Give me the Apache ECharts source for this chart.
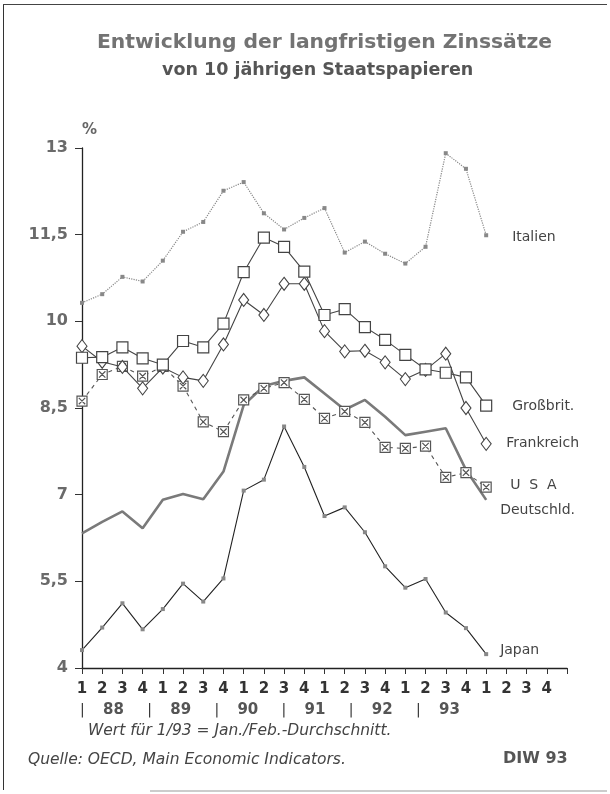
<!DOCTYPE html>
<html><head><meta charset="utf-8">
<script src="https://cdn.jsdelivr.net/npm/echarts@6/dist/echarts.min.js"></script>
<style>html,body{margin:0;padding:0;background:#fff}#c{width:610px;height:794px}</style>
</head><body><div id="c"></div>
<script>
// ---- data ----
const years = ['88', '89', '90', '91', '92', '93'];
const quarters = ['1', '2', '3', '4'];
const italien     = [10.32, 10.47, 10.77, 10.69, 11.05, 11.55, 11.72, 12.26, 12.41, 11.87, 11.59, 11.79, 11.96, 11.19, 11.38, 11.17, 11.00, 11.29, 12.91, 12.64, 11.49];
const grossbrit   = [9.37, 9.38, 9.55, 9.36, 9.25, 9.66, 9.55, 9.96, 10.85, 11.45, 11.29, 10.86, 10.11, 10.21, 9.90, 9.68, 9.42, 9.17, 9.11, 9.03, 8.54];
const frankreich  = [9.57, 9.30, 9.21, 8.84, 9.20, 9.03, 8.97, 9.60, 10.37, 10.11, 10.65, 10.65, 9.83, 9.48, 9.49, 9.29, 9.00, 9.16, 9.44, 8.50, 7.88];
const usa         = [8.62, 9.08, 9.22, 9.05, 9.22, 8.88, 8.26, 8.09, 8.64, 8.84, 8.94, 8.65, 8.32, 8.44, 8.25, 7.82, 7.80, 7.84, 7.30, 7.38, 7.13];
const deutschland = [6.33, 6.53, 6.71, 6.42, 6.91, 7.01, 6.92, 7.40, 8.55, 8.88, 8.97, 9.03, 8.75, 8.47, 8.64, 8.35, 8.03, 8.09, 8.15, 7.43, 6.91];
const japan       = [4.31, 4.70, 5.12, 4.67, 5.02, 5.46, 5.15, 5.55, 7.07, 7.26, 8.18, 7.48, 6.63, 6.78, 6.35, 5.76, 5.39, 5.54, 4.96, 4.69, 4.24];
const yMin = 4, yMax = 13, yStep = 1.5;

// ---- chart ----
const categories = years.flatMap(() => quarters).concat(['']);
const FONT = 'DejaVu Sans';
const chart = echarts.init(document.getElementById('c'), null, {renderer: 'canvas'});

const yearGraphics = [];
years.forEach((y, i) => {
  const sx = 82 + i * 67.2;
  yearGraphics.push({type: 'text', left: sx - 2, top: 703,
    style: {text: '|', font: '14px ' + FONT, fill: '#333'}});
  yearGraphics.push({type: 'text', left: sx + 21, top: 703,
    style: {text: y, font: 'bold 15px ' + FONT, fill: '#555'}});
});

function endLbl(name, dist, off) {
  return {show: true, formatter: name, distance: dist, offset: off,
    fontFamily: FONT, fontSize: 14, color: '#444'};
}

const option = {
  animation: false,
  backgroundColor: '#fff',
  grid: {left: 82, right: 43, top: 148, bottom: 126, containLabel: false},
  xAxis: {
    type: 'category', data: categories, boundaryGap: false,
    axisLine: {lineStyle: {color: '#222', width: 1.3}},
    axisTick: {show: true, interval: 0, length: 6, lineStyle: {color: '#333'}},
    axisLabel: {interval: 0, margin: 14, fontFamily: FONT, fontSize: 15, fontWeight: 'bold', color: '#333'},
    splitLine: {show: false}
  },
  yAxis: {
    type: 'value', min: yMin, max: yMax, interval: yStep,
    name: '%', nameLocation: 'end', nameGap: 10,
    nameTextStyle: {align: 'left', verticalAlign: 'bottom', fontFamily: FONT, fontSize: 15, fontWeight: 'bold', color: '#666'},
    axisLine: {show: true, lineStyle: {color: '#222', width: 1.3}},
    axisTick: {show: true, inside: false, length: 7, lineStyle: {color: '#333'}},
    axisLabel: {margin: 14, fontFamily: FONT, fontSize: 16, fontWeight: 'bold', color: '#6a6a6a',
      formatter: v => String(v).replace('.', ',')},
    splitLine: {show: false}
  },
  graphic: [
    {type: 'line', shape: {x1: 3.5, y1: 4, x2: 3.5, y2: 790}, style: {stroke: '#333', lineWidth: 1}},
    {type: 'line', shape: {x1: 3, y1: 4.5, x2: 607, y2: 4.5}, style: {stroke: '#444', lineWidth: 1}},
    {type: 'line', shape: {x1: 150, y1: 791, x2: 607, y2: 791}, style: {stroke: '#999', lineWidth: 1}},
    {type: 'text', left: 97, top: 33, style: {text: 'Entwicklung der langfristigen Zinssätze', font: 'bold 20.3px ' + FONT, fill: '#737373'}},
    {type: 'text', left: 162, top: 61, style: {text: 'von 10 jährigen Staatspapieren', font: 'bold 17.5px ' + FONT, fill: '#555'}},
    {type: 'text', left: 88, top: 723, style: {text: 'Wert für 1/93 = Jan./Feb.-Durchschnitt.', font: 'oblique 15.5px ' + FONT, fill: '#444'}},
    {type: 'text', left: 28, top: 752, style: {text: 'Quelle: OECD, Main Economic Indicators.', font: 'oblique 15.5px ' + FONT, fill: '#444'}},
    {type: 'text', left: 503, top: 751, style: {text: 'DIW 93', font: 'bold 16px ' + FONT, fill: '#555'}}
  ].concat(yearGraphics),
  series: [
    {name: 'Japan', type: 'line', data: japan, z: 2,
      lineStyle: {color: '#222', width: 1.1}, symbol: 'rect', symbolSize: 4,
      itemStyle: {color: '#888'}, endLabel: endLbl('Japan', 14, [0, -4])},
    {name: 'Deutschld.', type: 'line', data: deutschland, z: 3, showSymbol: false, symbol: 'none',
      lineStyle: {color: '#7a7a7a', width: 2.6}, endLabel: endLbl('Deutschld.', 14, [0, 10])},
    {name: 'U S A', type: 'line', data: usa, z: 4,
      lineStyle: {color: '#555', width: 1.1, type: [4, 4]},
      symbol: 'path://M0,0L10,0L10,10L0,10Z M1.8,1.8L8.2,8.2 M8.2,1.8L1.8,8.2', symbolSize: 10,
      itemStyle: {color: '#fff', borderColor: '#555', borderWidth: 1.2},
      endLabel: endLbl('U  S  A', 24, [0, -2])},
    {name: 'Frankreich', type: 'line', data: frankreich, z: 5,
      lineStyle: {color: '#444', width: 1.1}, symbol: 'diamond', symbolSize: [10, 13],
      itemStyle: {color: '#fff', borderColor: '#444', borderWidth: 1.1},
      endLabel: endLbl('Frankreich', 20, [0, 0])},
    {name: 'Großbrit.', type: 'line', data: grossbrit, z: 6,
      lineStyle: {color: '#444', width: 1.1}, symbol: 'rect', symbolSize: 11,
      itemStyle: {color: '#fff', borderColor: '#444', borderWidth: 1.2},
      endLabel: endLbl('Großbrit.', 26, [0, 1])},
    {name: 'Italien', type: 'line', data: italien, z: 7,
      lineStyle: {color: '#888', width: 1.2, type: 'dotted'}, symbol: 'rect', symbolSize: 4,
      itemStyle: {color: '#888'}, endLabel: endLbl('Italien', 26, [0, 2])}
  ]
};
chart.setOption(option);
</script></body></html>
